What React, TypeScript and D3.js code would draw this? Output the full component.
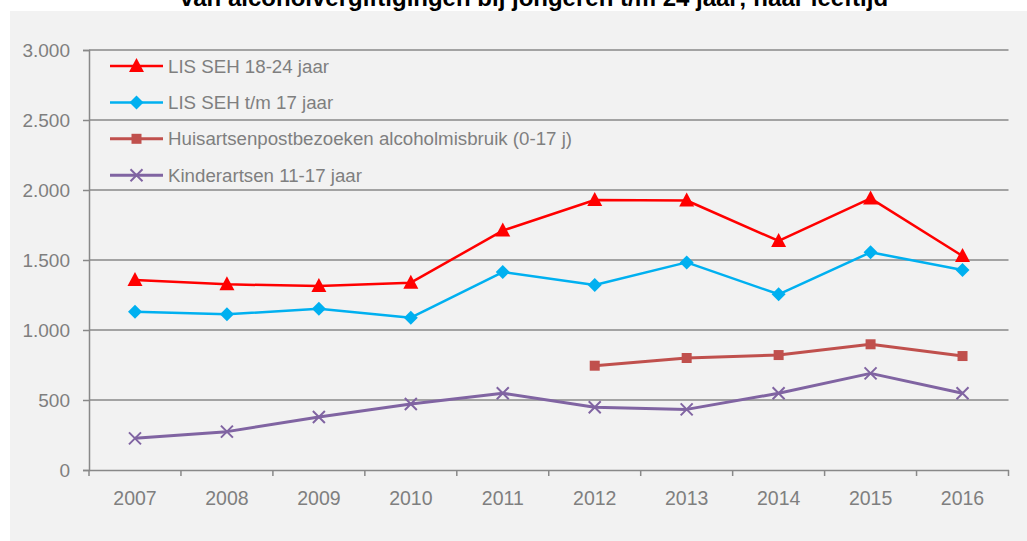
import { useRef, useEffect } from 'react';
import * as d3 from 'd3';

const years = ['2007', '2008', '2009', '2010', '2011', '2012', '2013', '2014', '2015', '2016'];
const yTicks = [0, 500, 1000, 1500, 2000, 2500, 3000];

const sehOlder = [1357, 1326, 1314, 1338, 1710, 1929, 1925, 1636, 1940, 1529];
const sehYoung = [1131, 1112, 1152, 1088, 1414, 1321, 1483, 1255, 1555, 1429];
const huisartsen = [null, null, null, null, null, 745, 800, 821, 898, 814];
const kinderartsen = [226, 274, 379, 471, 548, 448, 433, 548, 690, 548];

const seriesNames = [
  'LIS SEH 18-24 jaar',
  'LIS SEH t/m 17 jaar',
  'Huisartsenpostbezoeken alcoholmisbruik (0-17 j)',
  'Kinderartsen 11-17 jaar',
];
const seriesColors = ['#ff0000', '#00b0f0', '#c0504d', '#8064a2'];
const seriesMarkers = ['triangle', 'diamond', 'square', 'cross'];
const seriesWidths = [2.5, 2.5, 3, 3];

const W = 1027, H = 541;
const FONT = 'Arial, "Liberation Sans", sans-serif';
const GREY = '#7f7f7f';

function drawMarker(g: d3.Selection<SVGGElement, unknown, null, undefined>, kind: string, x: number, y: number, color: string) {
  if (kind === 'triangle') {
    g.append('path').attr('d', `M${x},${y - 8}L${x + 7.5},${y + 6}L${x - 7.5},${y + 6}Z`).attr('fill', color);
  } else if (kind === 'diamond') {
    g.append('path').attr('d', `M${x},${y - 7}L${x + 7},${y}L${x},${y + 7}L${x - 7},${y}Z`).attr('fill', color);
  } else if (kind === 'square') {
    g.append('rect').attr('x', x - 5).attr('y', y - 5).attr('width', 10).attr('height', 10).attr('fill', color);
  } else {
    g.append('path').attr('d', `M${x - 6},${y - 6}L${x + 6},${y + 6}M${x + 6},${y - 6}L${x - 6},${y + 6}`)
      .attr('stroke', color).attr('stroke-width', 2).attr('fill', 'none');
  }
}

export default function App() {
  const svgRef = useRef<SVGSVGElement>(null);

  useEffect(() => {
    const svg = d3.select(svgRef.current);
    svg.selectAll('*').remove();

    // panel
    svg.append('rect').attr('x', 10).attr('y', 11).attr('width', W - 10).attr('height', H - 11).attr('fill', '#f2f2f2');

    // title (its first line falls above the picture, as in the original)
    svg.append('text').attr('x', 534).attr('y', 6).attr('text-anchor', 'middle')
      .attr('font-family', FONT).attr('font-size', 24).attr('font-weight', 'bold').attr('fill', '#000')
      .text('van alcoholvergiftigingen bij jongeren t/m 24 jaar; naar leeftijd');

    const left = 89, right = 1008.5, top = 50, bottom = 470;
    const x = d3.scaleBand().domain(years).range([left, right]);
    const y = d3.scaleLinear().domain([0, 3000]).range([bottom, top]);

    const g = svg.append('g');

    // gridlines
    yTicks.filter(t => t > 0).forEach(t => {
      g.append('line').attr('x1', left).attr('x2', right).attr('y1', y(t)).attr('y2', y(t))
        .attr('stroke', '#898989').attr('stroke-width', 1.5);
    });

    // y axis
    const yAxis = g.append('g').attr('transform', `translate(${left},0)`)
      .call(d3.axisLeft(y).tickValues(yTicks).tickSize(6).tickFormat(d => d3.format(',')(d as number).replace(/,/g, '.')));
    yAxis.select('.domain').attr('stroke', '#898989').attr('stroke-width', 1.5);
    yAxis.selectAll('.tick line').attr('stroke', '#898989').attr('stroke-width', 1.5);
    yAxis.selectAll('.tick text').attr('x', -19).attr('font-family', FONT).attr('font-size', 19).attr('fill', GREY);

    // x axis
    const xAxis = g.append('g').attr('transform', `translate(0,${bottom})`)
      .call(d3.axisBottom(x).tickSize(0).tickPadding(21));
    xAxis.select('.domain').attr('stroke', '#898989').attr('stroke-width', 1.5);
    xAxis.selectAll('.tick text').attr('font-family', FONT).attr('font-size', 19.5).attr('fill', GREY);
    [...years.map(yr => x(yr)!), right].forEach(px => {
      g.append('line').attr('x1', px).attr('x2', px).attr('y1', bottom).attr('y2', bottom + 6)
        .attr('stroke', '#898989').attr('stroke-width', 1.5);
    });

    const allSeries = [sehOlder, sehYoung, huisartsen, kinderartsen];
    const cx = (i: number) => x(years[i])! + x.bandwidth() / 2;

    allSeries.forEach((vals, si) => {
      const pts = vals.map((v, i) => ({ i, v })).filter(p => p.v !== null) as { i: number; v: number }[];
      const line = d3.line<{ i: number; v: number }>().x(p => cx(p.i)).y(p => y(p.v));
      g.append('path').datum(pts).attr('d', line).attr('fill', 'none')
        .attr('stroke', seriesColors[si]).attr('stroke-width', seriesWidths[si]).attr('stroke-linejoin', 'round');
      pts.forEach(p => drawMarker(g, seriesMarkers[si], cx(p.i), y(p.v), seriesColors[si]));
    });

    // legend
    const lg = svg.append('g');
    seriesNames.forEach((name, si) => {
      const ly = 66 + si * 36.4;
      lg.append('line').attr('x1', 110).attr('x2', 163).attr('y1', ly).attr('y2', ly)
        .attr('stroke', seriesColors[si]).attr('stroke-width', seriesWidths[si]);
      drawMarker(lg, seriesMarkers[si], 136.5, ly, seriesColors[si]);
      lg.append('text').attr('x', 168).attr('y', ly + 6.5).attr('font-family', FONT).attr('font-size', 18.7)
        .attr('fill', GREY).text(name);
    });
  }, []);

  return (
    <svg ref={svgRef} width={W} height={H}
      style={{ position: 'absolute', left: 0, top: 0, background: '#fff', display: 'block' }} />
  );
}
